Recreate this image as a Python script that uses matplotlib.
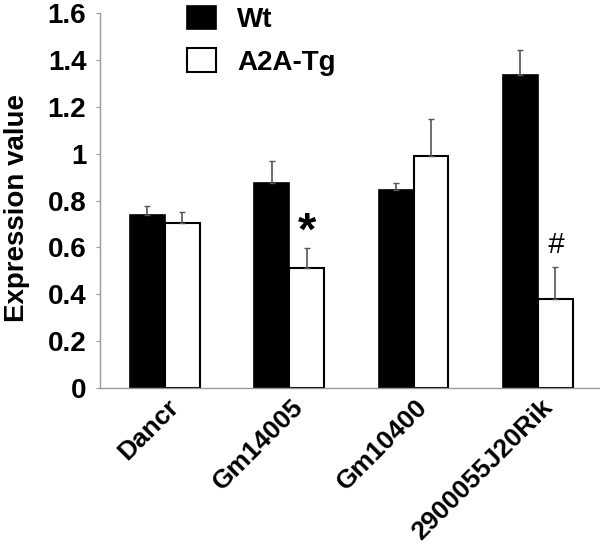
import matplotlib
matplotlib.use("Agg")
import matplotlib.pyplot as plt
import matplotlib.transforms as mtransforms
import numpy as np

plt.rcParams['font.family'] = ['Liberation Sans', 'DejaVu Sans']

genes = ["Dancr", "Gm14005", "Gm10400", "2900055J20Rik"]
wt_vals = [0.738, 0.875, 0.845, 1.335]
wt_err = [0.040, 0.093, 0.030, 0.107]
tg_vals = [0.704, 0.512, 0.990, 0.380]
tg_err = [0.046, 0.085, 0.160, 0.136]
marks = ["", "*", "", "#"]
yticks = [0, 0.2, 0.4, 0.6, 0.8, 1, 1.2, 1.4, 1.6]
ytick_labels = ["0", "0.2", "0.4", "0.6", "0.8", "1", "1.2", "1.4", "1.6"]

fig = plt.figure(figsize=(6, 5.5), dpi=100)
ax = fig.add_axes([0.167, 0.2945, 0.833, 0.6818])

x = np.arange(len(genes))
w = 0.28
err_kw = dict(ecolor="#555555", elinewidth=1.2, capsize=2.5, capthick=1.0)

ax.bar(x - w / 2, wt_vals, w, color="black", edgecolor="black", linewidth=1.2,
       yerr=[np.zeros(len(genes)), wt_err], error_kw=err_kw, label="Wt", zorder=2)
ax.bar(x + w / 2, tg_vals, w, color="white", edgecolor="black", linewidth=1.5,
       yerr=[np.zeros(len(genes)), tg_err], error_kw=err_kw, label="A2A-Tg", zorder=2)

# significance marks above the A2A-Tg error bars
for i, m in enumerate(marks):
    if m == "*":
        ax.text(x[i] + w / 2, tg_vals[i] + tg_err[i] + 0.015, m, ha="center",
                va="baseline", fontsize=34, fontweight="bold")
    elif m == "#":
        ax.text(x[i] + w / 2, tg_vals[i] + tg_err[i] + 0.06, m, ha="center",
                va="baseline", fontsize=21, style="italic")

ax.set_xlim(-0.52, 3.5)
ax.set_ylim(0, 1.6)
ax.set_yticks(yticks)
ax.set_yticklabels(ytick_labels, fontsize=20, fontweight="bold")
ax.set_xticks(x)
ax.set_xticklabels(genes, rotation=45, ha="right", va="top", rotation_mode="anchor",
                   fontsize=19, fontweight="bold")
ax.tick_params(axis="x", length=0, pad=5)
ax.tick_params(axis="y", length=3, color="#999999", pad=7)
offset = mtransforms.ScaledTranslation(0.02, 0, fig.dpi_scale_trans)
for lbl in ax.get_xticklabels():
    lbl.set_transform(lbl.get_transform() + offset)

ax.set_ylabel("Expression value", fontsize=20, fontweight="bold", labelpad=8)
ax.yaxis.set_label_coords(-0.14, 0.48)

for s in ["top", "right"]:
    ax.spines[s].set_visible(False)
for s in ["left", "bottom"]:
    ax.spines[s].set_color("#999999")
    ax.spines[s].set_linewidth(1.0)

ax.legend(loc="upper left", bbox_to_anchor=(0.312, 0.99), bbox_transform=fig.transFigure,
          frameon=False, prop={"size": 20, "weight": "bold"}, handlelength=1.05,
          handleheight=0.95, handletextpad=0.75, labelspacing=0.55,
          borderpad=0, borderaxespad=0)

fig.savefig("out.png", dpi=100)
